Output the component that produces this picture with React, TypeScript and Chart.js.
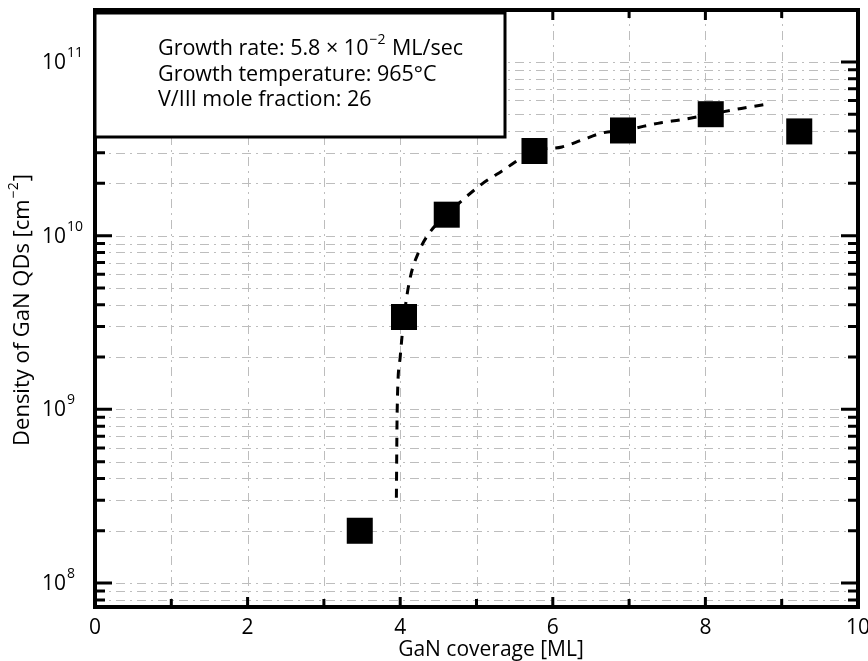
import React, { useEffect, useRef } from "react";
import { Chart, registerables } from "chart.js";

Chart.register(...registerables);

// Measured QD densities (GaN coverage [ML] -> density [cm^-2])
const coverage = [3.47, 4.05, 4.61, 5.76, 6.92, 8.07, 9.23];
const density = [2.0e8, 3.4e9, 1.32e10, 3.07e10, 4.03e10, 5.0e10, 3.98e10];

// Dashed guide curve
const fitCoverage = [3.95, 3.96, 4.0, 4.05, 4.13, 4.24, 4.37, 4.61, 5.05, 5.33, 5.76, 6.12, 6.38, 6.65, 6.92, 7.42, 7.69, 8.07, 8.47, 8.85];
const fitDensity = [3.1e8, 9.6e8, 2.0e9, 3.4e9, 5.7e9, 8.0e9, 1.02e10, 1.32e10, 1.95e10, 2.35e10, 3.07e10, 3.24e10, 3.55e10, 3.9e10, 4.03e10, 4.47e10, 4.65e10, 5.0e10, 5.4e10, 5.75e10];

const xGridValues = [0, 1, 2, 3, 4, 5, 6, 7, 8, 9, 10];
const xLabelValues = [0, 2, 4, 6, 8, 10];
const yDecades = [8, 9, 10, 11];
const yMinorDecades = [7, 8, 9, 10, 11];

const X_MIN = 0;
const X_MAX = 10;
const Y_MIN = 7.28e7;
const Y_MAX = 1.99e11;

const xTitle = "GaN coverage [ML]";
const yTitleMain = "Density of GaN QDs [cm";
const yTitleSup = "\u22122";
const yTitleEnd = "]";

const infoLine1a = "Growth rate: 5.8 \u00D7 10";
const infoLine1Sup = "\u22122";
const infoLine1b = " ML/sec";
const infoLine2 = "Growth temperature: 965\u00B0C";
const infoLine3 = "V/III mole fraction: 26";

const FONT = "'Open Sans', 'DejaVu Sans', sans-serif";

const decorPlugin = {
  id: "decor",
  beforeDatasetsDraw(chart: any) {
    const { ctx, chartArea: a, scales } = chart;
    const x = scales.x;
    const y = scales.y;
    ctx.save();
    ctx.strokeStyle = "#bdbdbd";
    ctx.lineWidth = 1;
    ctx.setLineDash([9, 5, 2, 5]);
    for (const v of xGridValues) {
      if (v <= X_MIN || v >= X_MAX) continue;
      const px = Math.round(x.getPixelForValue(v)) + 0.5;
      ctx.beginPath();
      ctx.moveTo(px, a.top);
      ctx.lineTo(px, a.bottom);
      ctx.stroke();
    }
    for (const d of yMinorDecades) {
      for (let m = 1; m <= 9; m++) {
        const v = m * Math.pow(10, d);
        if (v <= Y_MIN || v >= Y_MAX) continue;
        const py = Math.round(y.getPixelForValue(v)) + 0.5;
        ctx.beginPath();
        ctx.moveTo(a.left, py);
        ctx.lineTo(a.right, py);
        ctx.stroke();
      }
    }
    ctx.restore();
  },
  afterDatasetsDraw(chart: any) {
    const { ctx, chartArea: a, scales } = chart;
    const x = scales.x;
    const y = scales.y;
    ctx.save();
    ctx.setLineDash([]);
    ctx.strokeStyle = "#000";
    // y ticks (inward, both sides)
    ctx.lineWidth = 3;
    for (const d of yMinorDecades) {
      for (let m = 1; m <= 9; m++) {
        const v = m * Math.pow(10, d);
        if (v <= Y_MIN || v >= Y_MAX) continue;
        const py = y.getPixelForValue(v);
        const len = m === 1 ? 17 : 10;
        ctx.beginPath();
        ctx.moveTo(a.left, py);
        ctx.lineTo(a.left + len, py);
        ctx.moveTo(a.right, py);
        ctx.lineTo(a.right - len, py);
        ctx.stroke();
      }
    }
    // x ticks (inward, bottom and top)
    for (const v of xGridValues) {
      if (v <= X_MIN || v >= X_MAX) continue;
      const px = x.getPixelForValue(v);
      const len = v % 2 === 0 ? 10 : 8;
      ctx.beginPath();
      ctx.moveTo(px, a.bottom);
      ctx.lineTo(px, a.bottom - len);
      ctx.moveTo(px, a.top);
      ctx.lineTo(px, a.top + len);
      ctx.stroke();
    }
    // frame
    ctx.lineWidth = 4;
    ctx.strokeRect(a.left, a.top, a.right - a.left, a.bottom - a.top);

    // info box
    const bx = a.left;
    const by = 13;
    const bw = 505 - a.left;
    const bh = 124;
    ctx.fillStyle = "#fff";
    ctx.fillRect(bx, by, bw, bh);
    ctx.lineWidth = 3;
    ctx.strokeRect(bx, by, bw, bh);
    ctx.fillStyle = "#000";
    ctx.textBaseline = "alphabetic";
    ctx.textAlign = "left";
    const tx = 158;
    ctx.font = `21.5px ${FONT}`;
    ctx.fillText(infoLine1a, tx, 55);
    const w = ctx.measureText(infoLine1a).width;
    ctx.font = `14px ${FONT}`;
    ctx.fillText(infoLine1Sup, tx + w + 1, 44);
    const ws = ctx.measureText(infoLine1Sup).width;
    ctx.font = `21.5px ${FONT}`;
    ctx.fillText(infoLine1b, tx + w + ws + 2, 55);
    ctx.fillText(infoLine2, tx, 81);
    ctx.fillText(infoLine3, tx, 106);

    // x title (drawn at its place in the reference)
    ctx.font = `21px ${FONT}`;
    ctx.textAlign = "center";
    ctx.fillText(xTitle, 491, 656);

    // y tick labels with superscript exponents
    for (const d of yDecades) {
      const py = y.getPixelForValue(Math.pow(10, d));
      ctx.font = `21px ${FONT}`;
      ctx.textAlign = "right";
      ctx.fillText("10", 66, py + 7);
      ctx.font = `14px ${FONT}`;
      ctx.textAlign = "left";
      ctx.fillText(String(d), 67, py - 5);
    }

    // y title, rotated
    ctx.translate(29, 310);
    ctx.rotate(-Math.PI / 2);
    ctx.font = `22px ${FONT}`;
    const w1 = ctx.measureText(yTitleMain).width;
    ctx.font = `14px ${FONT}`;
    const w2 = ctx.measureText(yTitleSup).width;
    ctx.font = `22px ${FONT}`;
    const w3 = ctx.measureText(yTitleEnd).width;
    const total = w1 + w2 + w3 + 2;
    let sx = -total / 2;
    ctx.textAlign = "left";
    ctx.fillText(yTitleMain, sx, 0);
    sx += w1 + 1;
    ctx.font = `14px ${FONT}`;
    ctx.fillText(yTitleSup, sx, -11);
    sx += w2 + 1;
    ctx.font = `22px ${FONT}`;
    ctx.fillText(yTitleEnd, sx, 0);
    ctx.restore();
  },
};

export default function App() {
  const canvasRef = useRef<HTMLCanvasElement | null>(null);

  useEffect(() => {
    document.body.style.margin = "0";
    const canvas = canvasRef.current;
    if (!canvas) return;
    const points = coverage.map((c, i) => ({ x: c, y: density[i] }));
    const fit = fitCoverage.map((c, i) => ({ x: c, y: fitDensity[i] }));
    const chart = new Chart(canvas, {
      type: "scatter",
      data: {
        datasets: [
          {
            label: "fit",
            data: fit,
            showLine: true,
            borderColor: "#000",
            borderWidth: 3,
            borderDash: [9, 8],
            pointRadius: 0,
            cubicInterpolationMode: "monotone",
            order: 2,
          } as any,
          {
            label: "density",
            data: points,
            pointStyle: "rect",
            pointRadius: 18.4,
            pointBackgroundColor: "#000",
            pointBorderWidth: 0,
            backgroundColor: "#000",
            borderColor: "#000",
            showLine: false,
            order: 1,
          } as any,
        ],
      },
      options: {
        animation: false,
        responsive: false,
        maintainAspectRatio: false,
        events: [],
        layout: { autoPadding: false, padding: { left: 0, right: 10, top: 10, bottom: 0 } },
        plugins: {
          legend: { display: false },
          tooltip: { enabled: false },
        },
        scales: {
          x: {
            type: "linear",
            min: X_MIN,
            max: X_MAX,
            grid: { display: false, drawTicks: false },
            border: { display: false },
            ticks: {
              stepSize: 1,
              padding: 8,
              color: "#000",
              font: { family: FONT, size: 21 },
              maxRotation: 0,
              autoSkip: false,
              callback: (v: any) => (xLabelValues.includes(Number(v)) ? String(v) : ""),
            },
            title: { display: false },
            afterFit: (scale: any) => {
              scale.height = 54;
              scale.paddingLeft = 0;
              scale.paddingRight = 0;
            },
          },
          y: {
            type: "logarithmic",
            min: Y_MIN,
            max: Y_MAX,
            grid: { display: false, drawTicks: false },
            border: { display: false },
            ticks: { display: false },
            afterFit: (scale: any) => {
              scale.width = 95;
              scale.paddingTop = 0;
              scale.paddingBottom = 0;
            },
          },
        },
      } as any,
      plugins: [decorPlugin],
    });
    return () => chart.destroy();
  }, []);

  return (
    <div style={{ width: 868, height: 661 }}>
      <canvas ref={canvasRef} width={868} height={661} style={{ display: "block" }} />
    </div>
  );
}
